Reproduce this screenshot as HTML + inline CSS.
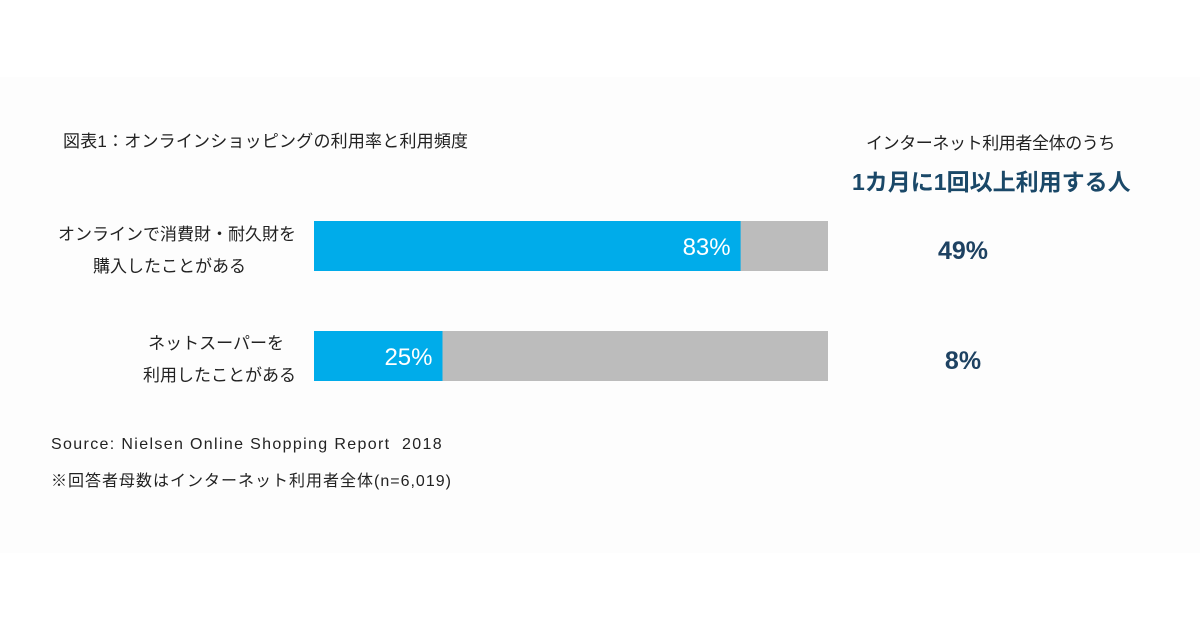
<!DOCTYPE html>
<html><head><meta charset="utf-8"><style>
body{margin:0;width:1200px;height:630px;background:#fff;position:relative;overflow:hidden;font-family:"Liberation Sans","Noto Sans CJK JP",sans-serif}
.band{position:absolute;left:0;top:77px;width:1200px;height:476px;background:#fdfdfd}
.t{position:absolute;white-space:nowrap;color:#222}
</style></head><body>
<div class="band"></div>
<div class="t" style="left:63px;top:127px;font-size:17px;letter-spacing:0.2px">図表1：オンラインショッピングの利用率と利用頻度</div>
<div class="t" style="left:866px;top:129px;font-size:17px;letter-spacing:-0.4px">インターネット利用者全体のうち</div>
<div class="t" style="left:852px;top:163px;font-size:23px;font-weight:bold;color:#1a4868;letter-spacing:0px">1カ月に1回以上利用する人</div>
<div class="t" style="left:40px;top:219px;width:256px;text-align:right;font-size:17px;line-height:32px;letter-spacing:0px">オンラインで消費財・耐久財を<br><span style="margin-right:50px">購入したことがある</span></div>
<div class="t" style="left:40px;top:328px;width:256px;text-align:right;font-size:17px;line-height:32px;letter-spacing:0px"><span style="margin-right:12px">ネットスーパーを</span><br>利用したことがある</div>
<svg id="chart" width="1200" height="630" style="position:absolute;left:0;top:0"></svg>
<div class="t" style="left:51px;top:436px;font-size:16px;letter-spacing:1.35px">Source: Nielsen Online Shopping Report&nbsp; 2018</div>
<div class="t" style="left:51px;top:467px;font-size:16px;letter-spacing:1px">※回答者母数はインターネット利用者全体(n=6,019)</div>
<script>
const categories=["オンラインで消費財・耐久財を購入したことがある","ネットスーパーを利用したことがある"];
const usageRate=[83,25];
const monthlyRate=[49,8];
const svg=document.getElementById('chart');
const NS='http://www.w3.org/2000/svg';
const x0=314,w=514;
const xs=v=>x0+w*v/100;
const rowY=i=>221+i*110;
function mk(tag,attrs){const e=document.createElementNS(NS,tag);for(const k in attrs)e.setAttribute(k,attrs[k]);svg.appendChild(e);return e;}
categories.forEach((c,i)=>{
  const y=rowY(i);
  const bg=mk('rect',{x:x0,y:y,width:w,height:50,fill:'#bcbcbc'});
  
  
  const b=mk('rect',{x:x0,y:y,width:xs(usageRate[i])-x0,height:50,fill:'#00acea'});
  
  
  const t=mk('text',{x:xs(usageRate[i])-10,y:y+34,'text-anchor':'end','font-size':24,fill:'#fff','font-family':'Liberation Sans, sans-serif'});
  t.textContent=usageRate[i]+'%';
  
  
  const m=mk('text',{x:963,y:y+38,'text-anchor':'middle','font-size':25,'font-weight':'bold',fill:'#1e4262','font-family':'Liberation Sans, sans-serif'});
  m.textContent=monthlyRate[i]+'%';
  
  
});
</script>
</body></html>
